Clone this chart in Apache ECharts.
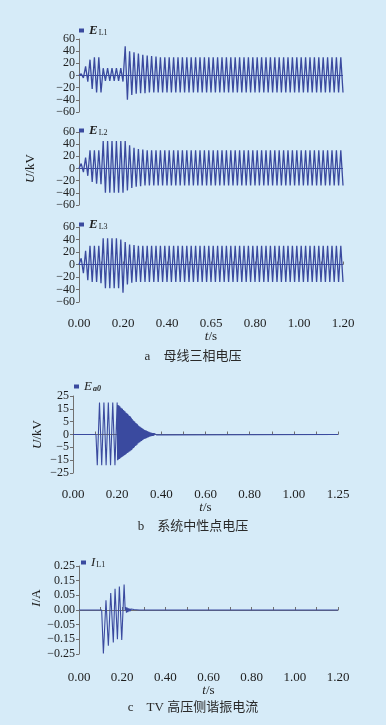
<!DOCTYPE html>
<html>
<head>
<meta charset="utf-8">
<script src="https://cdn.jsdelivr.net/npm/echarts@6/dist/echarts.min.js"></script>
<style>
  html, body { margin: 0; padding: 0; background: #d6ebf8; }
  #chart { width: 386px; height: 725px; }
</style>
</head>
<body>
<div id="chart"></div>
<script>
// 母线三相电压: peak values every half cycle (0.01 s), 0.00 .. 1.20 s
const phaseStep = 0.01
const phaseL1 = [
  0, 3, -4, 15, -10, 26, -22, 30, -28, 30, -28,
  12, -9, 12, -9, 12, -9, 12, -9, 12, -10,
  48, -40, 40, -32, 38, -30, 36, -29, 34, -29, 33, -28, 32, -28, 31, -28,
  30, -28, 30, -28, 30, -28, 30, -28, 30, -28, 30, -28, 30, -28, 30, -28, 30, -28, 30, -28, 30, -28, 30, -28,
  30, -28, 30, -28, 30, -28, 30, -28, 30, -28, 30, -28, 30, -28, 30, -28, 30, -28, 30, -28, 30, -28, 30, -28,
  30, -28, 30, -28, 30, -28, 30, -28, 30, -28, 30, -28, 30, -28, 30, -28, 30, -28, 30, -28, 30, -28, 30, -28,
  30, -28, 30, -28, 30, -28, 30, -28, 30, -28, 30, -28
]
const phaseL2 = [
  0, 8, -6, 18, -12, 30, -22, 30, -25, 30, -26,
  45, -40, 45, -40, 45, -40, 45, -40, 45, -40, 45,
  -36, 38, -32, 34, -30, 32, -29, 31, -28,
  30, -28, 30, -28, 30, -28, 30, -28, 30, -28, 30, -28, 30, -28, 30, -28, 30, -28, 30, -28, 30, -28, 30, -28,
  30, -28, 30, -28, 30, -28, 30, -28, 30, -28, 30, -28, 30, -28, 30, -28, 30, -28, 30, -28, 30, -28, 30, -28,
  30, -28, 30, -28, 30, -28, 30, -28, 30, -28, 30, -28, 30, -28, 30, -28, 30, -28, 30, -28, 30, -28, 30, -28,
  30, -28, 30, -28, 30, -28, 30, -28, 30, -28, 30, -28, 30, -28, 30, -28, 30, -28
]
const phaseL3 = [
  0, 10, -14, 22, -25, 30, -28, 30, -28, 30, -30,
  42, -38, 42, -38, 42, -38, 42, -38, 40,
  -45, 36, -32, 32, -29, 31, -28,
  30, -28, 30, -28, 30, -28, 30, -28, 30, -28, 30, -28, 30, -28, 30, -28, 30, -28, 30, -28, 30, -28, 30, -28,
  30, -28, 30, -28, 30, -28, 30, -28, 30, -28, 30, -28, 30, -28, 30, -28, 30, -28, 30, -28, 30, -28, 30, -28,
  30, -28, 30, -28, 30, -28, 30, -28, 30, -28, 30, -28, 30, -28, 30, -28, 30, -28, 30, -28, 30, -28, 30, -28,
  30, -28, 30, -28, 30, -28, 30, -28, 30, -28, 30, -28, 30, -28, 30, -28, 30, -28, 30, -28, 30, -28
]
const phaseTicks = ['0.00', '0.20', '0.40', '0.65', '0.80', '1.00', '1.20']

// 系统中性点电压 (axis runs -30..30, printed with the figure's own labels)
const neutralTime = [
  0, 0.104, 0.110, 0.120, 0.130, 0.140, 0.150, 0.160, 0.170, 0.180, 0.190, 0.200,
  0.202, 0.204, 0.206, 0.208, 0.210, 0.212, 0.214, 0.216, 0.218, 0.220,
  0.222, 0.224, 0.226, 0.228, 0.230, 0.232, 0.234, 0.236, 0.238, 0.240,
  0.242, 0.244, 0.246, 0.248, 0.250, 0.252, 0.254, 0.256, 0.258, 0.260,
  0.262, 0.264, 0.266, 0.268, 0.270, 0.272, 0.274, 0.276, 0.278, 0.280,
  0.282, 0.284, 0.286, 0.288, 0.290, 0.292, 0.294, 0.296, 0.298, 0.300,
  0.302, 0.304, 0.306, 0.308, 0.310, 0.312, 0.314, 0.316, 0.318, 0.320,
  0.322, 0.324, 0.326, 0.328, 0.330, 0.332, 0.334, 0.336, 0.338, 0.340,
  0.342, 0.344, 0.346, 0.348, 0.350, 0.352, 0.354, 0.356, 0.358, 0.360,
  0.362, 0.364, 0.366, 0.368, 0.370, 0.372, 0.374, 0.376, 0.378, 0.380,
  0.384, 1.200
]
const neutralVolt = [
  0, 0, -24, 25, -24, 25, -24, 25, -24, 25, -24, 25,
  -20, 23, -19.5, 22.5, -19, 22, -18.5, 21, -18, 20.5,
  -17.5, 20, -17, 19, -16.5, 18.5, -16, 18, -15.5, 17,
  -15, 16.5, -14.5, 16, -14, 15, -13.5, 14.5, -13, 14,
  -12.5, 13, -12, 12, -11, 11, -10.5, 10.5, -10, 10,
  -9, 9, -8.5, 8.5, -8, 8, -7, 7, -6.5, 6.5,
  -6, 6, -5.5, 5.5, -5, 5, -4.5, 4.5, -4, 4,
  -3.5, 3.5, -3.2, 3.2, -3, 3, -2.7, 2.7, -2.4, 2.4,
  -2.1, 2.1, -1.8, 1.8, -1.6, 1.6, -1.4, 1.4, -1.2, 1.2,
  -1, 1, -0.8, 0.8, -0.6, 0.6, -0.5, 0.5, -0.3, 0.3,
  0, 0
]
const neutralTicks = ['0.00', '0.20', '0.40', '0.60', '0.80', '1.00', '1.25']
const neutralVoltTicks = ['\u221225', '\u221215', '\u22125', '0', '5', '15', '25']

// TV 高压侧谐振电流 (axis runs -0.3..0.3)
const currentTime = [
  0, 0.105, 0.113, 0.125, 0.136, 0.147, 0.159, 0.167, 0.178, 0.187, 0.198, 0.209,
  0.214, 0.217, 0.220, 0.223, 0.226, 0.229, 0.232, 0.235, 0.238, 0.241, 0.244, 0.247, 0.250,
  0.255, 0.260, 0.265, 0.270, 0.280, 1.200
]
const currentAmp = [
  0, 0, -0.296, 0.067, -0.244, 0.116, -0.222, 0.144, -0.2, 0.16, -0.204, 0.173,
  0, 0.02, -0.018, 0.016, -0.014, 0.012, -0.01, 0.009, -0.008, 0.007, -0.006, 0.005, -0.004,
  0.003, -0.003, 0.002, -0.001, 0, 0
]
const currentTicks = ['0.00', '0.20', '0.40', '0.60', '0.80', '1.00', '1.20']
const currentAmpTicks = ['\u22120.25', '\u22120.15', '\u22120.05', '0.00', '0.05', '0.15', '0.25']

const FONT = '"Liberation Serif", "Times New Roman", serif'
const LINE = '#3a4a9f'
const AXIS = '#707070'
const TEXT = '#1e1e1e'

const chart = echarts.init(document.getElementById('chart'))

let pairs = (xs, ys) => ys.map((v, i) => [xs[i], v])
let stepPairs = (ys) => ys.map((v, i) => [i * phaseStep, v])

let labelStyle = { fontFamily: FONT, fontSize: 12, color: TEXT }
let richName = {
  i: { fontFamily: FONT, fontStyle: 'italic', fontSize: 13, color: TEXT },
  n: { fontFamily: FONT, fontSize: 13, color: TEXT }
}

let xAxisOf = (grid, ticks, show, offset) => ({
  type: 'value',
  gridIndex: grid,
  min: 0,
  max: 1.2,
  interval: 0.2,
  show: show,
  offset: offset,
  splitLine: { show: false },
  axisLine: { show: true, lineStyle: { color: AXIS, width: 1 } },
  axisTick: { show: true, inside: true, length: 3, lineStyle: { color: AXIS } },
  minorTick: { show: true, splitNumber: 2, length: 3, lineStyle: { color: AXIS } },
  axisLabel: Object.assign({}, labelStyle, {
    fontSize: 13, margin: 8, showMinLabel: true, showMaxLabel: true,
    formatter: (v) => ticks[Math.round(v / 0.2)]
  }),
  name: show ? '{i|t}{n|/s}' : '',
  nameLocation: 'middle',
  nameGap: 21,
  nameMoveOverlap: false,
  nameTextStyle: { rich: richName }
})

let yAxisOf = (grid, min, max, interval, fmt, name, nameGap, namePad) => ({
  type: 'value',
  gridIndex: grid,
  min: min,
  max: max,
  interval: interval,
  splitLine: { show: false },
  axisLine: { show: true, lineStyle: { color: AXIS, width: 1 } },
  axisTick: { show: true, inside: false, length: 3, lineStyle: { color: AXIS } },
  axisLabel: Object.assign({}, labelStyle, { margin: 4, formatter: fmt, showMinLabel: true, showMaxLabel: true }),
  name: name || '',
  nameLocation: 'middle',
  nameGap: nameGap || 40,
  nameMoveOverlap: false,
  nameTextStyle: { rich: richName, padding: namePad || 0 }
})

let phaseFmt = (v) => String(v).replace('-', '\u2212')

let zeroLine = {
  silent: true,
  symbol: 'none',
  label: { show: false },
  lineStyle: { color: LINE, width: 1, type: 'solid' },
  data: [{ yAxis: 0 }]
}

let lineSeries = (name, idx, data, width, mark) => ({
  name: name,
  type: 'line',
  xAxisIndex: idx,
  yAxisIndex: idx,
  data: data,
  showSymbol: false,
  symbol: 'none',
  sampling: false,
  lineStyle: { color: LINE, width: width },
  itemStyle: { color: LINE },
  markLine: mark
})

let legendNames = {
  EL1: '{b|E}{s|L1}',
  EL2: '{b|E}{s|L2}',
  EL3: '{b|E}{s|L3}',
  Ea0: '{i|E}{si|a0}',
  IL1: '{i|I}{s|L1}'
}
let legendOf = (name, left, top) => ({
  data: [name],
  left: left,
  top: top,
  padding: 0,
  icon: 'rect',
  itemWidth: 5,
  itemHeight: 4,
  formatter: (n) => legendNames[n],
  textStyle: {
    rich: {
      b: { fontFamily: FONT, fontStyle: 'italic', fontWeight: 'bold', fontSize: 13, color: TEXT },
      i: { fontFamily: FONT, fontStyle: 'italic', fontSize: 13, color: TEXT },
      s: { fontFamily: FONT, fontSize: 8, color: TEXT, verticalAlign: 'bottom', padding: [5, 0, 0, 1] },
      si: { fontFamily: FONT, fontStyle: 'italic', fontWeight: 'bold', fontSize: 8, color: TEXT, verticalAlign: 'bottom', padding: [5, 0, 0, 1] }
    }
  }
})

let captionOf = (text, y) => ({
  type: 'text',
  x: 193,
  y: y,
  style: {
    text: text,
    font: '13px "Liberation Serif", "Noto Sans CJK SC"',
    fill: '#2a2a2a',
    align: 'center',
    verticalAlign: 'middle',
    textAlign: 'center',
    textVerticalAlign: 'middle'
  }
})

const option = {
  animation: false,
  backgroundColor: '#d6ebf8',
  grid: [
    { left: 79, top: 39, width: 264, height: 73 },
    { left: 79, top: 132, width: 264, height: 73 },
    { left: 79, top: 227, width: 264, height: 75 },
    { left: 73, top: 396, width: 265, height: 77 },
    { left: 79, top: 566, width: 259, height: 88 }
  ],
  legend: [
    legendOf('EL1', 79, 24),
    legendOf('EL2', 79, 124),
    legendOf('EL3', 79, 218),
    legendOf('Ea0', 74, 380),
    legendOf('IL1', 81, 556)
  ],
  xAxis: [
    xAxisOf(0, phaseTicks, false, 0),
    xAxisOf(1, phaseTicks, false, 0),
    xAxisOf(2, phaseTicks, true, 7),
    xAxisOf(3, neutralTicks, true, 7),
    xAxisOf(4, currentTicks, true, 9)
  ],
  yAxis: [
    yAxisOf(0, -60, 60, 20, phaseFmt),
    yAxisOf(1, -60, 60, 20, phaseFmt, '{i|U}{n|/kV}', 42),
    yAxisOf(2, -60, 60, 20, phaseFmt),
    yAxisOf(3, -30, 30, 10, (v) => neutralVoltTicks[Math.round((v + 30) / 10)], '{i|U}{n|/kV}', 29),
    yAxisOf(4, -0.3, 0.3, 0.1, (v) => currentAmpTicks[Math.round((v + 0.3) / 0.1)], '{i|I}{n|/A}', 36, [0, 0, 0, 24])
  ],
  series: [
    lineSeries('EL1', 0, stepPairs(phaseL1), 1.3, zeroLine),
    lineSeries('EL2', 1, stepPairs(phaseL2), 1.3, zeroLine),
    lineSeries('EL3', 2, stepPairs(phaseL3), 1.3, zeroLine),
    lineSeries('Ea0', 3, pairs(neutralTime, neutralVolt), 1.1),
    lineSeries('IL1', 4, pairs(currentTime, currentAmp), 1.1)
  ],
  graphic: [
    captionOf('a\u2003母线三相电压', 357),
    captionOf('b\u2003系统中性点电压', 527),
    captionOf('c\u2003TV 高压侧谐振电流', 708)
  ]
}
chart.setOption(option)
</script>
</body>
</html>
